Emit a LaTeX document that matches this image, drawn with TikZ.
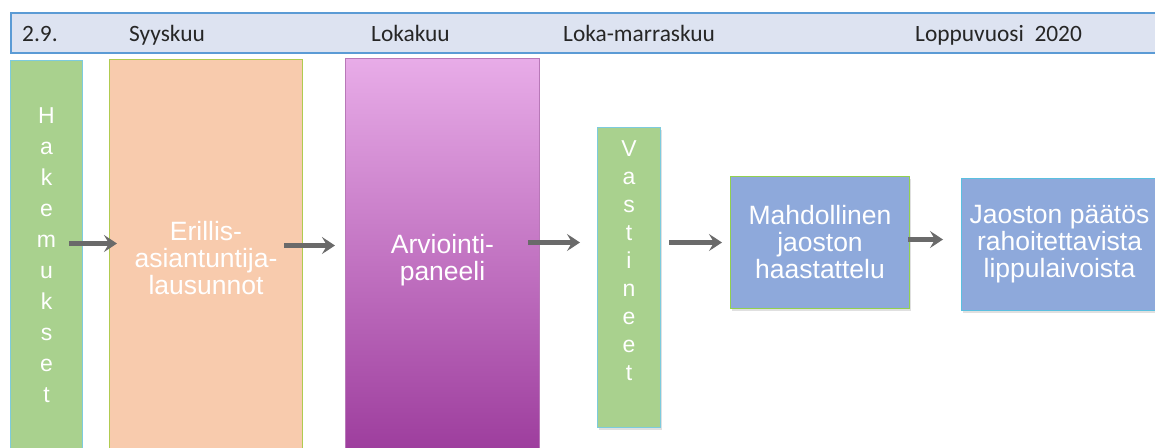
\documentclass[tikz,border=0pt]{standalone}
\usepackage{fontspec}
\setmainfont{Liberation Sans}
\newfontfamily\hdrfont{Carlito}
\usetikzlibrary{arrows.meta,calc,shadows}
\definecolor{hakgreen}{HTML}{A9D18E}
\definecolor{cyanedge}{HTML}{7DCBDD}
\definecolor{peach}{HTML}{F8CBAD}
\definecolor{peachedge}{HTML}{B0CB50}
\definecolor{arvtop}{HTML}{E8ACE8}
\definecolor{arvbot}{HTML}{9B3A9B}
\definecolor{arvedge}{HTML}{B878B8}
\definecolor{boxblue}{HTML}{8EA9DB}
\definecolor{greenedge}{HTML}{92D050}
\definecolor{blueedge}{HTML}{5BC0E0}
\definecolor{barfill}{HTML}{DDE3F1}
\definecolor{baredge}{HTML}{5B9BD5}
\definecolor{arrowgray}{HTML}{6A6A6A}
\definecolor{hdrtext}{HTML}{262626}
\tikzset{
  procbox/.style={anchor=north west, align=center, text=white, inner sep=0pt,
    font=\fontsize{26.5}{27}\selectfont, line width=1pt},
  letterbox/.style={procbox, font=\fontsize{23}{31}\selectfont},
  hdrlabel/.style={anchor=base west, text=hdrtext, inner sep=0pt, font=\hdrfont\fontsize{23.4}{24}\selectfont},
  flowarrow/.style={draw=arrowgray, line width=4.5pt, -{Stealth[length=13pt,width=17pt,inset=5pt]}},
  softshadow/.style={drop shadow={shadow xshift=1pt, shadow yshift=-2.5pt, opacity=0.2, fill=black!60}}
}
\begin{document}
\begin{tikzpicture}[x=1pt,y=-1pt]
\clip (0,0) rectangle (1155,447);
\fill[white] (0,0) rectangle (1155,447);

% header bar
\node[anchor=north west, fill=barfill, draw=baredge, line width=1.6pt,
      minimum width=1160, minimum height=40, inner sep=0pt] (bar) at (10,12) {};
\node[hdrlabel] (t29) at (22,41) {2.9.};
\node[hdrlabel] (tsyys) at (129,41) {Syyskuu};
\node[hdrlabel] (tloka) at (371,41) {Lokakuu};
\node[hdrlabel] (tlokamarras) at (563,41) {Loka-marraskuu};
\node[hdrlabel] (tloppu) at (915,41) {Loppuvuosi\ \ 2020};

% process boxes
\node[letterbox, fill=hakgreen, draw=cyanedge, minimum width=72, minimum height=390] (hak) at (10,60)
  {H\\a\\k\\e\\m\\u\\k\\s\\e\\t};
\node[procbox, fill=peach, draw=peachedge, minimum width=193, minimum height=398] (eri) at (109,59)
  {Erillis-\\asiantuntija-\\lausunnot};
\node[procbox, top color=arvtop, bottom color=arvbot, draw=arvedge, minimum width=194, minimum height=404] (arv) at (345,58)
  {Arviointi-\\paneeli};
\node[procbox, softshadow, font=\fontsize{23}{28}\selectfont, fill=hakgreen, draw=cyanedge, minimum width=63, minimum height=300] (vas) at (597,127)
  {V\\a\\s\\t\\i\\n\\e\\e\\t\\[6pt]};
\node[procbox, softshadow, fill=boxblue, draw=greenedge, minimum width=179, minimum height=132] (mah) at (730,176)
  {Mahdollinen\\jaoston\\haastattelu};
\node[procbox, softshadow, fill=boxblue, draw=blueedge, minimum width=196, minimum height=132] (jao) at (961,178)
  {Jaoston päätös\\rahoitettavista\\lippulaivoista};

% arrows
\draw[flowarrow] ($(hak.east)+(-14,-12)$) -- ($(eri.west)+(8,-15)$);
\draw[flowarrow] ($(eri.east)+(-19,-13)$) -- ($(arv.west)+(-10,-15)$);
\draw[flowarrow] ($(arv.east)+(-12,-18)$) -- ($(vas.west)+(-17,-35)$);
\draw[flowarrow] ($(vas.east)+(8,-35)$) -- ($(mah.west)+(-8,0)$);
\draw[flowarrow] ($(mah.east)+(-2,-3)$) -- ($(jao.west)+(-18,-5)$);
\end{tikzpicture}
\end{document}
